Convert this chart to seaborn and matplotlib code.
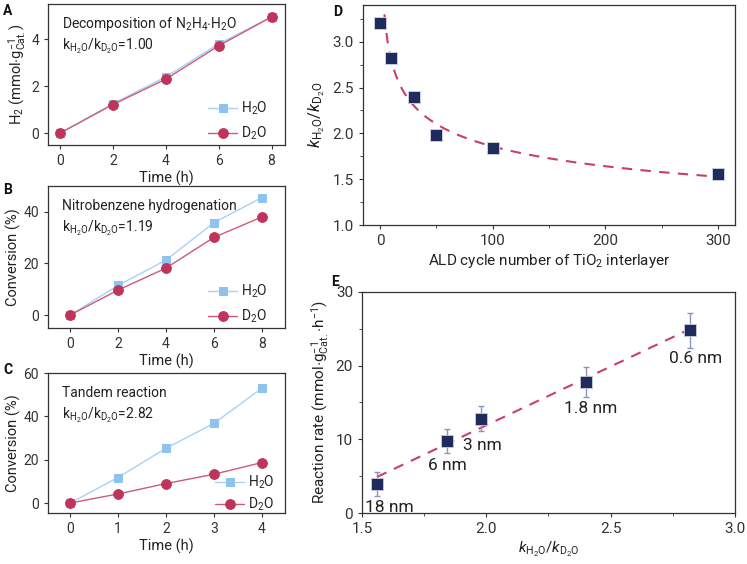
import numpy as np
import pandas as pd
import matplotlib
matplotlib.use("Agg")
import matplotlib.pyplot as plt
from matplotlib.ticker import AutoMinorLocator, MultipleLocator
import seaborn as sns

# panel A-C: time courses
timeA = [0, 2, 4, 6, 8]
h2oA = [0, 1.25, 2.4, 3.8, 4.95]
d2oA = [0, 1.22, 2.3, 3.72, 4.95]

timeB = [0, 2, 4, 6, 8]
h2oB = [0, 11.5, 21.3, 35.8, 45.5]
d2oB = [0, 9.7, 18.2, 30.1, 38.0]

timeC = [0, 1, 2, 3, 4]
h2oC = [0, 11.8, 25.3, 36.8, 53.0]
d2oC = [0, 4.2, 9.0, 13.3, 18.7]

# panel D: KIE vs ALD cycles
aldCycles = [0, 10, 30, 50, 100, 300]
kieD = [3.2, 2.82, 2.4, 1.98, 1.84, 1.56]

# panel E: rate vs KIE
kieE = [1.56, 1.84, 1.98, 2.40, 2.82]
rateE = [3.9, 9.8, 12.8, 17.8, 24.8]
rateErr = [1.6, 1.6, 1.7, 2.0, 2.4]
thickLabels = ["18 nm", "6 nm", "3 nm", "1.8 nm", "0.6 nm"]

sns.set_theme(style="ticks")
plt.rcParams["font.family"] = ["Roboto", "DejaVu Sans"]
plt.rcParams["mathtext.fontset"] = "custom"
plt.rcParams["mathtext.rm"] = "Roboto"
plt.rcParams["mathtext.it"] = "Roboto:italic"
plt.rcParams["mathtext.bf"] = "Roboto:bold"
plt.rcParams["axes.edgecolor"] = "#333333"
plt.rcParams["xtick.color"] = "#333333"
plt.rcParams["ytick.color"] = "#333333"
plt.rcParams["text.color"] = "#222222"
plt.rcParams["axes.labelcolor"] = "#222222"

blue = "#90c2f0"
blueLine = "#a9d1f5"
red = "#c0345c"
redLine = "#cc5a7c"
navy = "#1f2b5a"

fig = plt.figure(figsize=(7.47, 5.64), dpi=100)
axA = fig.add_axes([0.0643, 0.743, 0.317, 0.250])
axB = fig.add_axes([0.0643, 0.4184, 0.317, 0.2518])
axC = fig.add_axes([0.0643, 0.0904, 0.317, 0.248])
axD = fig.add_axes([0.486, 0.601, 0.498, 0.390])
axE = fig.add_axes([0.4846, 0.0904, 0.4993, 0.392])

kText = r"k$_{\mathrm{H_2O}}$/k$_{\mathrm{D_2O}}$"


def timePanel(ax, t, h, d, title, ratio, xlim, ylim, yticks, ylabel,
              legAnchor=(0.94, 0.0), legSpacing=0.55):
    sns.lineplot(x=t, y=h, ax=ax, color=blueLine, lw=1.0, marker="s", markersize=6,
                 markerfacecolor=blue, markeredgecolor=blue, label="H$_2$O")
    sns.lineplot(x=t, y=d, ax=ax, color=redLine, lw=1.0, marker="o", markersize=7,
                 markerfacecolor=red, markeredgecolor=red, label="D$_2$O")
    ax.set_xlim(*xlim)
    ax.set_ylim(*ylim)
    ax.set_xticks(t)
    ax.set_yticks(yticks)
    ax.tick_params(labelsize=10, length=3, width=0.8)
    ax.set_xlabel("Time (h)", fontsize=10.5, labelpad=2)
    ax.set_ylabel(ylabel, fontsize=10.5, labelpad=2)
    for s in ax.spines.values():
        s.set_linewidth(0.9)
    ax.text(0.06, 0.86, title, transform=ax.transAxes, fontsize=10, va="center")
    ax.text(0.06, 0.70, kText + ratio, transform=ax.transAxes, fontsize=10, va="center")
    ax.legend(loc="lower right", bbox_to_anchor=legAnchor, frameon=False, fontsize=10,
              handlelength=2.1, handletextpad=0.3, labelspacing=legSpacing, borderpad=0.2,
              borderaxespad=0.0)


timePanel(axA, timeA, h2oA, d2oA, r"Decomposition of N$_2$H$_4$$\cdot$H$_2$O", "=1.00",
          (-0.45, 8.5), (-0.5, 5.5), [0, 2, 4], r"H$_2$ (mmol$\cdot$g$_{\mathrm{Cat.}}^{-1}$)")
timePanel(axB, timeB, h2oB, d2oB, "Nitrobenzene hydrogenation", "=1.19",
          (-0.92, 8.96), (-5, 50), [0, 20, 40], "Conversion (%)")
timePanel(axC, timeC, h2oC, d2oC, "Tandem reaction", "=2.82",
          (-0.46, 4.48), (-4.6, 60), [0, 20, 40, 60], "Conversion (%)",
          legAnchor=(0.97, -0.02), legSpacing=0.3)

# panel D with power-law fit
xD = np.array(aldCycles, float)
yD = np.array(kieD, float)
mask = xD > 0
slope, inter = np.polyfit(np.log(xD[mask]), np.log(yD[mask]), 1)
xFit = np.linspace(4, 300, 300)
yFit = np.exp(inter) * xFit ** slope
sns.lineplot(x=xFit, y=yFit, ax=axD, color="#c8406a", lw=1.5, linestyle=(0, (5, 4)))
sns.scatterplot(x=aldCycles, y=kieD, ax=axD, marker="s", s=85, color=navy,
                edgecolor="#c9cde0", linewidth=0.7, zorder=3)
axD.set_xlim(-15, 315)
axD.set_ylim(1.0, 3.4)
axD.set_xticks([0, 100, 200, 300])
axD.set_yticks([1.0, 1.5, 2.0, 2.5, 3.0])
axD.xaxis.set_minor_locator(MultipleLocator(50))
axD.yaxis.set_minor_locator(MultipleLocator(0.25))
axD.tick_params(labelsize=11, length=3, width=0.8)
axD.tick_params(which="minor", length=2, width=0.6)
axD.set_xlabel(r"ALD cycle number of TiO$_2$ interlayer", fontsize=11, labelpad=3)
axD.set_ylabel(r"$k_{\mathrm{H_2O}}/k_{\mathrm{D_2O}}$", fontsize=12, labelpad=4)

# panel E with linear fit
slopeE, interE = np.polyfit(kieE, rateE, 1)
xFitE = np.linspace(min(kieE), max(kieE), 50)
sns.lineplot(x=xFitE, y=slopeE * xFitE + interE, ax=axE, color="#c8406a", lw=1.5,
             linestyle=(0, (5, 4)))
axE.errorbar(kieE, rateE, yerr=rateErr, fmt="none", ecolor="#8d94b8", elinewidth=1.0,
             capsize=2.5, capthick=1.0, zorder=2)
sns.scatterplot(x=kieE, y=rateE, ax=axE, marker="s", s=75, color=navy,
                edgecolor="#c9cde0", linewidth=0.6, zorder=3)
labelOffsets = [(0.05, -3.1), (0.005, -3.4), (0.005, -3.7), (0.02, -3.6), (0.02, -3.9)]
for xv, yv, lab, (dx, dy) in zip(kieE, rateE, thickLabels, labelOffsets):
    axE.text(xv + dx, yv + dy, lab, fontsize=12.5, ha="center", va="center", color="#222222")
axE.set_xlim(1.5, 3.0)
axE.set_ylim(0, 30)
axE.set_xticks([1.5, 2.0, 2.5, 3.0])
axE.set_yticks([0, 10, 20, 30])
axE.xaxis.set_minor_locator(AutoMinorLocator(2))
axE.yaxis.set_minor_locator(AutoMinorLocator(2))
axE.tick_params(labelsize=11, length=3, width=0.8)
axE.tick_params(which="minor", length=2, width=0.6)
axE.set_xlabel(r"$k_{\mathrm{H_2O}}/k_{\mathrm{D_2O}}$", fontsize=11, labelpad=3)
axE.set_ylabel(r"Reaction rate (mmol$\cdot$g$_{\mathrm{Cat.}}^{-1}$$\cdot$h$^{-1}$)", fontsize=11, labelpad=3)

for ax in (axD, axE):
    for s in ax.spines.values():
        s.set_linewidth(0.9)

for lab, (px, py) in zip("ABCDE", [(3, 15), (3, 194), (3, 374), (333, 16), (331, 286)]):
    fig.text(px / 747, 1 - py / 564, lab, fontsize=10, fontweight="bold", color="#111111")

fig.savefig("out.png", dpi=100)
